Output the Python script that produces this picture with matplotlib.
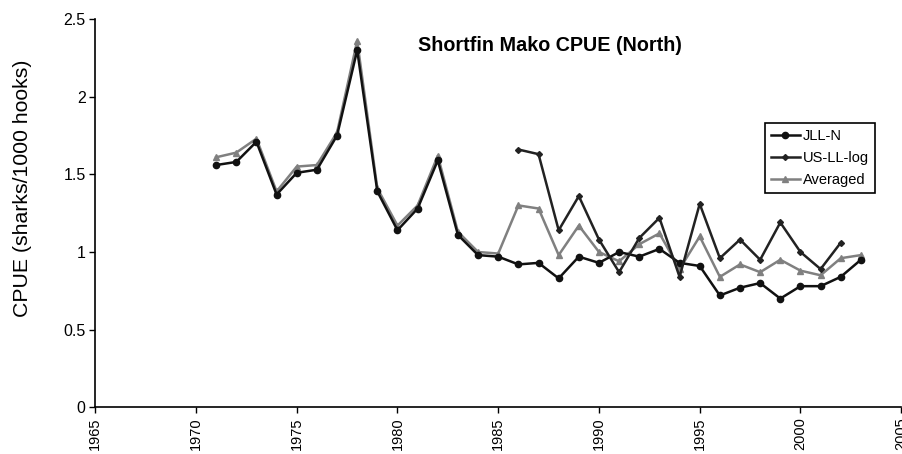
import matplotlib
matplotlib.use("Agg")
import matplotlib.pyplot as plt

years_jll = list(range(1971, 2004))
jll_n = [1.56, 1.58, 1.71, 1.37, 1.51, 1.53, 1.75, 2.30, 1.39, 1.14, 1.28, 1.59, 1.11,
         0.98, 0.97, 0.92, 0.93, 0.83, 0.97, 0.93, 1.00, 0.97, 1.02, 0.93, 0.91,
         0.72, 0.77, 0.80, 0.70, 0.78, 0.78, 0.84, 0.95]

years_us = list(range(1986, 2003))
us_ll_log = [1.66, 1.63, 1.14, 1.36, 1.08, 0.87, 1.09, 1.22, 0.84, 1.31,
             0.96, 1.08, 0.95, 1.19, 1.00, 0.89, 1.06]

years_avg = list(range(1971, 2004))
averaged = [1.61, 1.64, 1.73, 1.39, 1.55, 1.56, 1.77, 2.36, 1.41, 1.17, 1.30, 1.62, 1.13,
            1.00, 0.99, 1.30, 1.28, 0.98, 1.17, 1.00, 0.94, 1.05, 1.12, 0.89, 1.10,
            0.84, 0.92, 0.87, 0.95, 0.88, 0.85, 0.96, 0.98]

title = "Shortfin Mako CPUE (North)"
ylabel = "CPUE (sharks/1000 hooks)"
xticks = list(range(1965, 2006, 5))
yticks = [0, 0.5, 1, 1.5, 2, 2.5]
ytick_labels = ["0", "0.5", "1", "1.5", "2", "2.5"]

plt.rcParams['font.family'] = ['Liberation Sans', 'DejaVu Sans']

fig = plt.figure(figsize=(9.03, 4.54), dpi=100)
ax = fig.add_axes([0.1055, 0.1029, 0.8925, 0.8551])

ax.plot(years_jll, jll_n, color='#111111', lw=1.8, marker='o', ms=4.5, label='JLL-N', zorder=3)
ax.plot(years_us, us_ll_log, color='#222222', lw=1.8, marker='D', ms=3, label='US-LL-log', zorder=3)
ax.plot(years_avg, averaged, color='#808080', lw=1.8, marker='^', ms=4.5, label='Averaged', zorder=2)

ax.set_xlim(1965, 2005)
ax.set_ylim(0, 2.5)
ax.set_xticks(xticks)
ax.set_xticklabels([str(x) for x in xticks], rotation=90, fontsize=10.5)
ax.set_yticks(yticks)
ax.set_yticklabels(ytick_labels, fontsize=11.5)
ax.spines['top'].set_visible(False)
ax.spines['right'].set_visible(False)
for s in ['left', 'bottom']:
    ax.spines[s].set_linewidth(1.2)
ax.tick_params(direction='out', length=4, width=1.0, pad=3)

ax.set_ylabel(ylabel, fontsize=15.3)
ax.yaxis.set_label_coords(-0.078, 0.565)
ax.text(0.564, 0.933, title, transform=ax.transAxes, ha='center', va='center',
        fontsize=14.2, fontweight='bold')

leg = ax.legend(loc='upper left', bbox_to_anchor=(0.831, 0.732), fontsize=10.5,
                frameon=True, fancybox=False, edgecolor='black', framealpha=1,
                handlelength=2.0, handletextpad=0.2, borderpad=0.4, labelspacing=0.55,
                borderaxespad=0)
leg.get_frame().set_linewidth(1.2)

fig.savefig("out.png", dpi=100)
